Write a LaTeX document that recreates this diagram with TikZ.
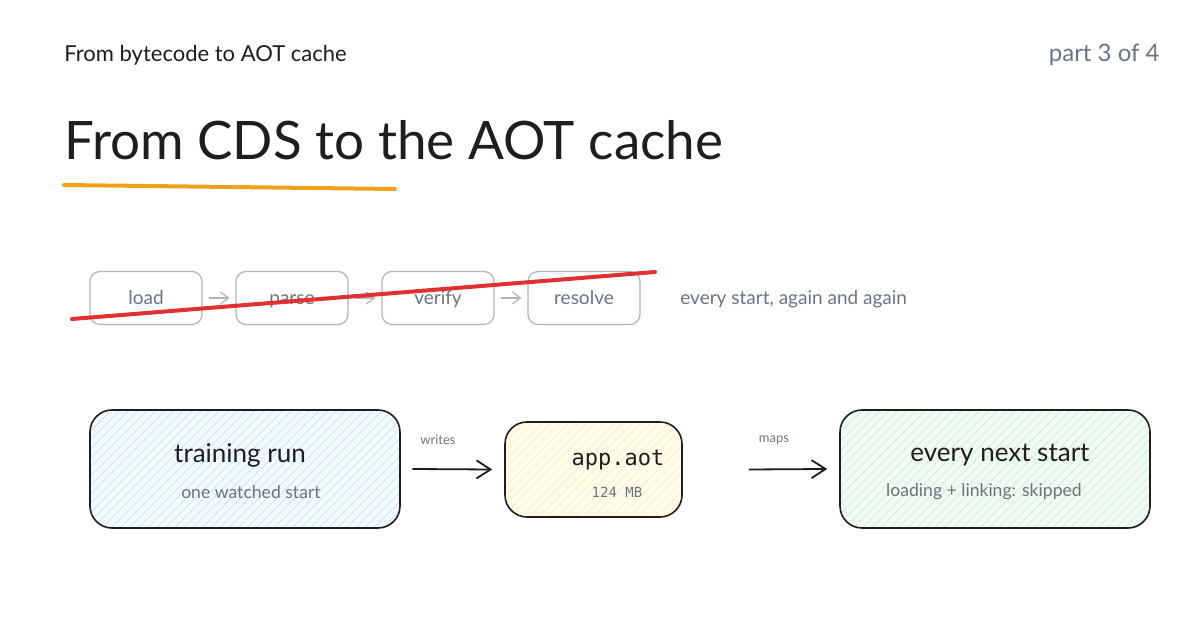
\documentclass[tikz,border=0pt]{standalone}
\usepackage{fontspec}
\setmainfont{Lato}
\newfontfamily\monofont{DejaVu Sans Mono}
\usetikzlibrary{patterns.meta,arrows.meta}
\definecolor{ink}{HTML}{1E1E1E}
\definecolor{greyt}{HTML}{6C757D}
\definecolor{greyb}{HTML}{ADB5BD}
\definecolor{orangeu}{HTML}{F0A01A}
\definecolor{redx}{HTML}{E03131}
\definecolor{bluef}{HTML}{F2F9FF}
\definecolor{blueh}{HTML}{C2E4FF}
\definecolor{yelf}{HTML}{FFFCEB}
\definecolor{yelh}{HTML}{FFF0B8}
\definecolor{grnf}{HTML}{F1FBF3}
\definecolor{grnh}{HTML}{C6F2CD}
\tikzset{
  stagebox/.style={draw=greyb, line width=0.6pt, rounded corners=5pt, minimum width=56pt, minimum height=26.5pt, text=greyt, font=\fontsize{9.5}{11}\selectfont, inner sep=0pt, text height=8pt, text depth=1pt},
  bigbox/.style={draw=ink, line width=0.8pt, rounded corners=11pt, inner sep=0pt},
  greyarrow/.style={draw=greyb, line width=0.6pt, -{Straight Barb[length=4pt,width=6pt]}},
  blackarrow/.style={draw=ink, line width=0.9pt, -{Straight Barb[length=7pt,width=9pt]}},
  lbl/.style={text=greyt, font=\fontsize{6.5}{7}\selectfont, inner sep=0pt},
  maintext/.style={text=ink, font=\fontsize{13}{15}\selectfont, inner sep=0pt},
  subtext/.style={text=greyt, font=\fontsize{8.8}{10}\selectfont, inner sep=0pt},
  hatch/.style={pattern={Lines[angle=45,distance=3.2pt,line width=0.35pt]}},
}
\begin{document}
\begin{tikzpicture}[x=0.5pt,y=-0.5pt]
\useasboundingbox (0,0) rectangle (1200,630);
\fill[white] (0,0) rectangle (1200,630);
% header
\node[anchor=base west, inner sep=0pt, text=ink, font=\fontsize{11}{13}\selectfont] (hdr) at (64,62) {From bytecode to AOT cache};
\node[anchor=base east, inner sep=0pt, text=greyt, font=\fontsize{12}{14}\selectfont] (part) at (1160,62) {part 3 of 4};
% title
\node[anchor=base west, inner sep=0pt, text=ink, font=\fontsize{26.5}{30}\selectfont] (title) at (64,160) {From CDS to the AOT cache};
\coordinate (u1) at (64,185);
\coordinate (u2) at (395,189);
\draw[orangeu, line width=2pt, line cap=round] (u1) -- (u2);
% stages
\node[stagebox] (load) at (146,298) {load};
\node[stagebox] (parse) at (292,298) {parse};
\node[stagebox] (verify) at (438,298) {verify};
\node[stagebox] (resolve) at (584,298) {resolve};
\draw[greyarrow] ([xshift=3pt]load.east) -- ([xshift=-3pt]parse.west);
\draw[greyarrow] ([xshift=3pt]parse.east) -- ([xshift=-3pt]verify.west);
\draw[greyarrow] ([xshift=3pt]verify.east) -- ([xshift=-3pt]resolve.west);
\coordinate (r1) at (72,319);
\coordinate (r2) at (655,272);
\draw[redx, line width=2pt, line cap=round] (r1) -- (r2);
\node[anchor=west, inner sep=0pt, text=greyt, font=\fontsize{9.5}{11}\selectfont] (again) at (680,299) {every start, again and again};
% big boxes
\node[bigbox, minimum width=155pt, minimum height=59pt, preaction={fill=bluef}, hatch, pattern color=blueh] (train) at (245,469) {};
\node[bigbox, minimum width=88.5pt, minimum height=47.5pt, preaction={fill=yelf}, hatch, pattern color=yelh] (aot) at (593.5,469.5) {};
\node[bigbox, minimum width=155pt, minimum height=59pt, preaction={fill=grnf}, hatch, pattern color=grnh] (next) at (995,469) {};
\node[maintext] (t1) at (240,455) {training run};
\node[subtext] (t2) at (251,492) {one watched start};
\node[text=ink, font=\monofont\fontsize{11}{13}\selectfont, inner sep=0pt] (a1) at (618,460) {app.aot};
\node[text=greyt, font=\monofont\fontsize{7}{9}\selectfont, inner sep=0pt] (a2) at (617,492) {124 MB};
\node[maintext] (n1) at (1000,455) {every next start};
\node[subtext] (n2) at (984,492) {loading + linking: skipped};
% connectors
\draw[blackarrow] ([xshift=6pt]train.east) -- ([xshift=-6pt]aot.west) node[lbl, pos=0.32, above=12pt] (w) {writes};
\draw[blackarrow] ([xshift=33pt]aot.east) -- ([xshift=-6pt]next.west) node[lbl, pos=0.32, above=12pt] (m) {maps};
\end{tikzpicture}
\end{document}
